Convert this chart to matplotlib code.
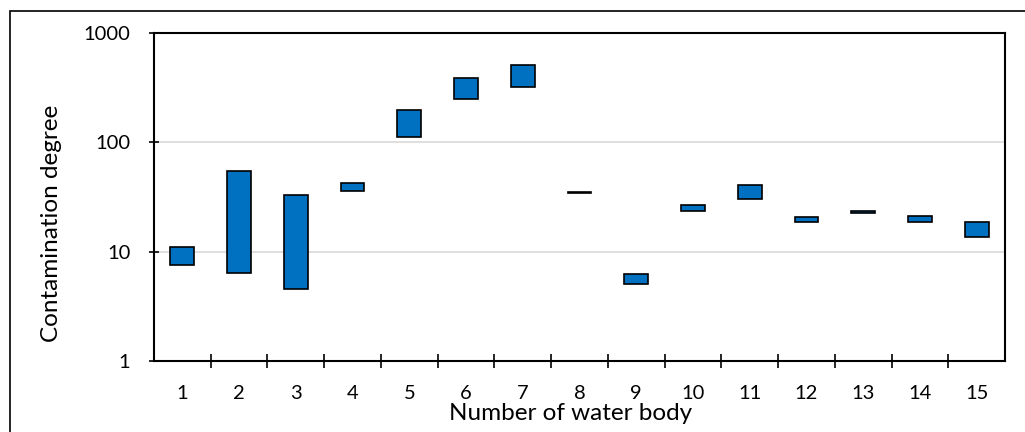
import numpy as np
import matplotlib
matplotlib.use("Agg")
import matplotlib.pyplot as plt
from matplotlib.patches import Rectangle

# ==========================================================
# DATA
# ==========================================================

water_body = list(range(1, 16))

low = [7.5, 6.4, 4.6, 35.9, 113, 249, 323, 34.6, 5.1, 23.4, 30.5, 18.7, 22.4, 18.6, 13.5]
high = [11.0, 54.5, 33.0, 42.5, 198, 384, 515, 35.4, 6.3, 27.0, 41.0, 20.8, 23.5, 21.2, 18.6]

y_ticks = [1, 10, 100, 1000]

BAR_COLOR = "#0070C0"

plt.rcParams["font.family"] = ["Lato", "DejaVu Sans"]

# ==========================================================
# FIGURE
# ==========================================================

fig = plt.figure(figsize=(10.25, 4.32), dpi=100)
ax = fig.add_axes([154/1025, 1 - 361/432, 851/1025, 328/432])

x = np.array(water_body)
lo = np.array(low)
hi = np.array(high)

ax.bar(
    x,
    hi - lo,
    bottom=lo,
    width=0.42,
    color=BAR_COLOR,
    edgecolor="black",
    linewidth=1.2,
    zorder=3
)

ax.set_yscale("log")
ax.set_ylim(1, 1000)
ax.set_xlim(0.5, 15.5)

ax.set_yticks(y_ticks)
ax.set_yticklabels([str(t) for t in y_ticks])
ax.yaxis.set_minor_locator(matplotlib.ticker.NullLocator())

ax.set_xticks(x)
ax.set_xticklabels([str(v) for v in water_body])
ax.set_xticks(np.arange(1.5, 15.5, 1.0), minor=True)

ax.tick_params(axis="x", which="major", length=0, pad=17, labelsize=14.5)
ax.tick_params(axis="x", which="minor", direction="inout", length=9.5, width=1.2)
ax.tick_params(axis="y", which="major", direction="inout", length=7, width=1.2,
               pad=13.5, labelsize=14.5)

ax.grid(axis="y", color="#D9D9D9", linewidth=1.2, zorder=0)

for s in ax.spines.values():
    s.set_linewidth(1.5)
    s.set_color("black")

ax.set_xlabel("Number of water body", fontsize=17.5)
ax.set_ylabel("Contamination degree", fontsize=17.5)
ax.yaxis.set_label_coords(-0.108, 0.42)
ax.xaxis.set_label_coords(0.49, -0.128)

# outer chart border
fig.patches.append(Rectangle(
    (10/1025, -0.1), 1.2, 1 - 11/432 + 0.1,
    transform=fig.transFigure, fill=False,
    edgecolor="black", linewidth=1.2
))

fig.savefig("out.png", dpi=100)
